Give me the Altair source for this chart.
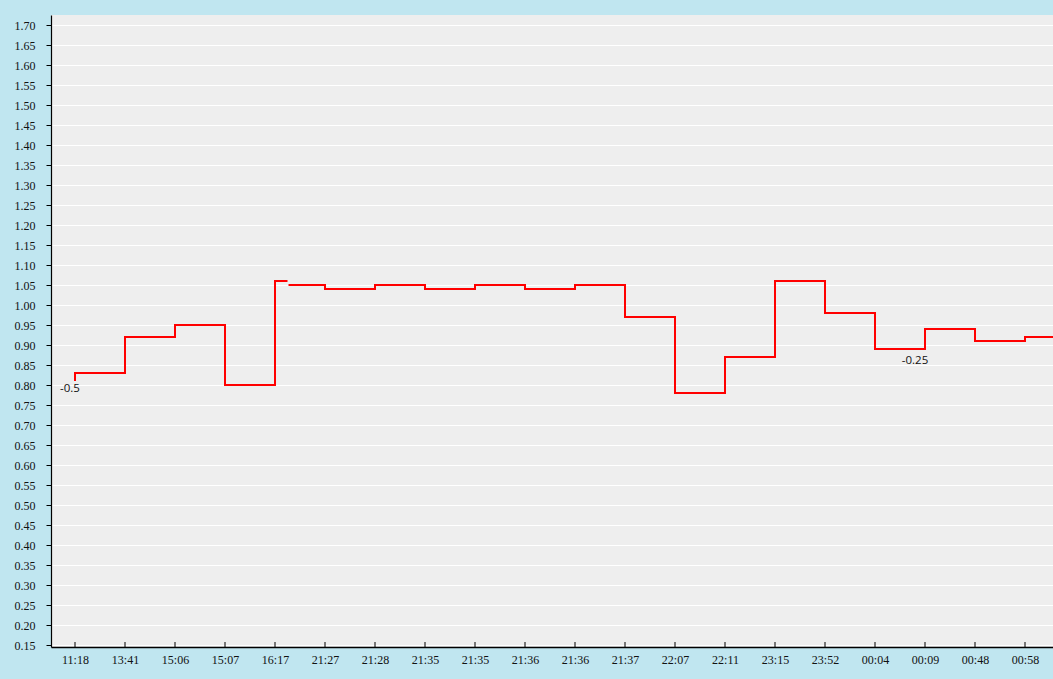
import altair as alt
import pandas as pd
import jinja2
from altair.utils import html as _alt_html

# ---- data ----
x_labels = ["11:18", "13:41", "15:06", "15:07", "16:17", "21:27", "21:28", "21:35",
            "21:35", "21:36", "21:36", "21:37", "22:07", "22:11", "23:15", "23:52",
            "00:04", "00:09", "00:48", "00:58"]

# step line, segment A (index positions on the time-category axis)
seg_a_x = [0, 0, 1, 2, 3, 4, 4.25]
seg_a_y = [0.81, 0.83, 0.92, 0.95, 0.80, 1.06, 1.06]
# segment B
seg_b_x = [4.27, 5, 6, 7, 8, 9, 10, 11, 12, 13, 14, 15, 16, 17, 18, 19, 20]
seg_b_y = [1.05, 1.04, 1.05, 1.04, 1.05, 1.04, 1.05, 0.97, 0.78, 0.87, 1.06, 0.98,
           0.89, 0.94, 0.91, 0.92, 0.92]

ann_text = ["-0.5", "-0.25"]
ann_x = [-0.1, 16.8]
ann_y = [0.79, 0.86]

y_ticks = [round(0.15 + 0.05 * i, 2) for i in range(32)]
x_ticks = list(range(len(x_labels)))

Y_MIN, Y_MAX = 0.145, 1.725
X_MIN, X_MAX = -0.48, 19.56

line_df = pd.DataFrame({
    "idx": seg_a_x + seg_b_x,
    "val": seg_a_y + seg_b_y,
    "seg": ["A"] * len(seg_a_x) + ["B"] * len(seg_b_x),
    "order": list(range(len(seg_a_x) + len(seg_b_x))),
})
ann_df = pd.DataFrame({"idx": ann_x, "val": ann_y, "txt": ann_text})
tick_df = pd.DataFrame({"idx": x_ticks, "lo": [Y_MIN] * len(x_ticks),
                        "hi": [Y_MIN + 0.0125] * len(x_ticks)})

label_expr = "[" + ",".join("'%s'" % s for s in x_labels) + "][datum.value]"

x_scale = alt.Scale(domain=[X_MIN, X_MAX], nice=False, zero=False)
y_scale = alt.Scale(domain=[Y_MIN, Y_MAX], nice=False, zero=False)

x_axis = alt.Axis(values=x_ticks, labelExpr=label_expr, title=None, grid=False,
                  tickSize=0, labelPadding=7, labelFont="Liberation Serif",
                  labelFontSize=12, labelColor="#111", domainColor="#000",
                  domainWidth=1.5, labelAngle=0, labelOverlap=False)
y_axis = alt.Axis(values=y_ticks, format=".2f", title=None, grid=True,
                  gridColor="#ffffff", gridWidth=1, tickSize=5, tickColor="#000",
                  tickWidth=1, labelPadding=11, labelFont="Liberation Serif",
                  labelFontSize=12, labelColor="#111", domainColor="#000",
                  domainWidth=1.2, labelOverlap=False)

X = lambda f: alt.X(f, scale=x_scale, axis=x_axis)
Y = lambda f: alt.Y(f, scale=y_scale, axis=y_axis)

line = alt.Chart(line_df).mark_line(
    interpolate="step-after", color="#ff0000", strokeWidth=2, clip=True
).encode(
    x=X("idx:Q"),
    y=Y("val:Q"),
    detail="seg:N",
    order="order:Q",
)

ticks = alt.Chart(tick_df).mark_rule(color="#000", strokeWidth=1).encode(
    x=X("idx:Q"),
    y=Y("lo:Q"),
    y2="hi:Q",
)

ann = alt.Chart(ann_df).mark_text(
    font="Open Sans", fontSize=11.5, color="#111", align="center", baseline="middle"
).encode(
    x=X("idx:Q"),
    y=Y("val:Q"),
    text="txt:N",
)

chart = alt.layer(line, ticks, ann).properties(
    width=1002, height=632,
    background="#C0E6F0",
    padding={"left": 43, "top": 7, "right": 0, "bottom": 24},
    autosize=alt.AutoSizeParams(type="none"),
).configure_view(fill="#EEEEEE", stroke=None)


class _BgTemplate(jinja2.Template):
    def render(self, *args, **kwargs):
        out = _alt_html.HTML_TEMPLATE.render(*args, **kwargs)
        style = "<style>html,body{background:#C0E6F0;}body{margin:8px 0 0 8px;overflow:hidden;}</style>"
        return out.replace("<head>", "<head>" + style, 1)


try:
    chart.save("out.html", embed_options={"renderer": "svg", "actions": False},
               template=_BgTemplate(""))
except Exception:
    chart.save("out.html", embed_options={"renderer": "svg", "actions": False})
